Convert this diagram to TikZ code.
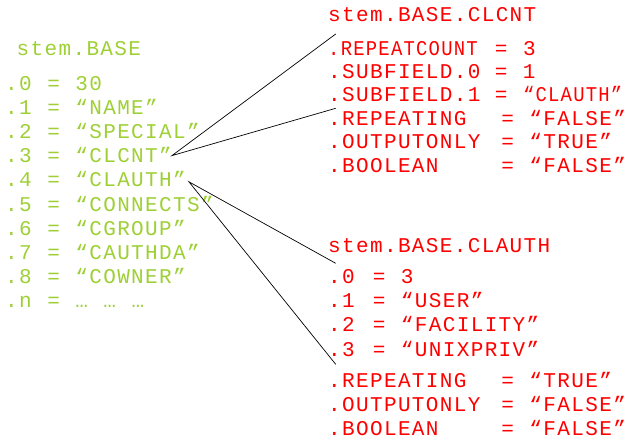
\documentclass[tikz,border=0pt]{standalone}
\usepackage{fontspec}
\newfontfamily\stemfont{Liberation Mono}[LetterSpace=6.5, WordSpace=1.11]
\definecolor{stemgreen}{RGB}{158,208,54}
\definecolor{stemred}{RGB}{255,0,0}
\newcommand{\fieldline}[3]{\makebox[#1][l]{#2}= #3}

\begin{document}
\begin{tikzpicture}[x=1pt,y=1pt]
            \tikzstyle{every node}+=[inner sep=0pt, anchor=base west, text height=16pt, text depth=2pt, font=\stemfont\fontsize{21}{24}\selectfont]
            \tikzstyle{stemtext}=[text=stemgreen]
            \tikzstyle{subtext}=[text=stemred]
            \useasboundingbox (0,0) rectangle (631,-439);
            % stem.BASE
            \node [stemtext] (base) at (16.5,-55) {stem.BASE};
            \node [stemtext] (base0) at (5,-90) {.0 = 30};
            \node [stemtext] (base1) at (5,-114.2) {.1 = “NAME”};
            \node [stemtext] (base2) at (5,-138.4) {.2 = “SPECIAL”};
            \node [stemtext] (base3) at (5,-162.6) {.3 = “CLCNT”};
            \node [stemtext] (base4) at (5,-186.8) {.4 = “CLAUTH”};
            \node [stemtext] (base5) at (5,-211) {.5 = “CONNECTS”};
            \node [stemtext] (base6) at (5,-235.2) {.6 = “CGROUP”};
            \node [stemtext] (base7) at (5,-259.4) {.7 = “CAUTHDA”};
            \node [stemtext] (base8) at (5,-283.6) {.8 = “COWNER”};
            \node [stemtext] (basen) at (5,-307.8) {.n = … … …};
            % stem.BASE.CLCNT
            \node [subtext] (clcnt) at (328,-21) {stem.BASE.CLCNT};
            \node [subtext] (clcnt1) at (328,-55) {\fieldline{166.7pt}{\scalebox{0.9}[1]{.REPEATCOUNT}}{3}};
            \node [subtext] (clcnt2) at (328,-78.4) {\fieldline{166.7pt}{.SUBFIELD.0}{1}};
            \node [subtext] (clcnt3) at (328,-101.8) {\fieldline{166.7pt}{.SUBFIELD.1}{\scalebox{0.9}[1]{“CLAUTH”}}};
            \node [subtext] (clcnt4) at (328,-125.2) {\fieldline{173.2pt}{.REPEATING}{“FALSE”}};
            \node [subtext] (clcnt5) at (328,-148.6) {\fieldline{173.2pt}{.OUTPUTONLY}{“TRUE”}};
            \node [subtext] (clcnt6) at (328,-172) {\fieldline{173.2pt}{.BOOLEAN}{“FALSE”}};
            % stem.BASE.CLAUTH
            \node [subtext] (clauth) at (328,-252) {stem.BASE.CLAUTH};
            \node [subtext] (clauth0) at (328,-283) {\fieldline{44.7pt}{.0}{3}};
            \node [subtext] (clauth1) at (328,-307) {\fieldline{44.7pt}{.1}{“USER”}};
            \node [subtext] (clauth2) at (328,-331.5) {\fieldline{44.7pt}{.2}{“FACILITY”}};
            \node [subtext] (clauth3) at (328,-356) {\fieldline{44.7pt}{.3}{“UNIXPRIV”}};
            \node [subtext] (clauth4) at (328,-387) {\fieldline{173.2pt}{.REPEATING}{“TRUE”}};
            \node [subtext] (clauth5) at (328,-411) {\fieldline{173.2pt}{.OUTPUTONLY}{“FALSE”}};
            \node [subtext] (clauth6) at (328,-435) {\fieldline{173.2pt}{.BOOLEAN}{“FALSE”}};
            % brackets
            \coordinate (clcnt-top) at (335.7,-34);
            \coordinate (clcnt-bot) at (335.7,-108.3);
            \coordinate (clauth-top) at (335.7,-263.3);
            \coordinate (clauth-bot) at (335.7,-364.3);
            \draw [black, line width=0.7pt] (clcnt-top) -- (base3.east) -- (clcnt-bot);
            \draw [black, line width=0.7pt] (clauth-top) -- ([xshift=3pt,yshift=-2pt]base4.east) -- (clauth-bot);
        \end{tikzpicture}
\end{document}
